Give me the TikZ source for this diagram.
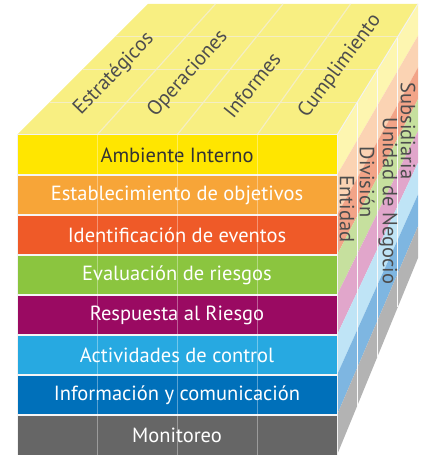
\documentclass[tikz,border=0pt]{standalone}
\usepackage{fontspec}
\setmainfont{PT Sans}
% front colours
\definecolor{ambiente}{HTML}{FFE600}
\definecolor{objetivos}{HTML}{F7A538}
\definecolor{eventos}{HTML}{EF5A28}
\definecolor{evaluacion}{HTML}{8BC53F}
\definecolor{respuesta}{HTML}{9A0A62}
\definecolor{actividades}{HTML}{27A9E1}
\definecolor{informacion}{HTML}{0070BA}
\definecolor{monitoreo}{HTML}{666666}
% side colours
\definecolor{ambienteS}{HTML}{FDF6B0}
\definecolor{objetivosS}{HTML}{FBD3B3}
\definecolor{eventosS}{HTML}{F2A488}
\definecolor{evaluacionS}{HTML}{C6E09E}
\definecolor{respuestaS}{HTML}{E1A6CB}
\definecolor{actividadesS}{HTML}{BFE4F6}
\definecolor{informacionS}{HTML}{7EB6E1}
\definecolor{monitoreoS}{HTML}{B3B3B3}
% top face
\definecolor{topface}{HTML}{F8EF82}
\definecolor{topgrid}{HTML}{F4EEC4}
\definecolor{labelgray}{HTML}{4D4D4D}
\begin{document}
\begin{tikzpicture}[x=1pt, y=-1pt,
    frontlabel/.style={inner sep=0pt, font=\fontsize{20.5}{20.5}\selectfont},
    toplabel/.style={inner sep=0pt, text=labelgray, font=\fontsize{20.5}{20.5}\selectfont},
    sidelabel/.style={inner sep=0pt, text=labelgray, rotate=-90, font=\fontsize{20.5}{20.5}\selectfont}
]
    \useasboundingbox (0,0) rectangle (432,462);

    % Top face
    \fill[topface] (17,135) -- (337,135) -- (418,4) -- (148,4) -- cycle;
    \foreach \i in {1,2,3}
        \draw[topgrid, line width=1.2pt] (17+80*\i,135) -- (148+67.5*\i,4);
    \foreach \t in {0.25,0.5,0.75}
        \draw[topgrid, line width=1.2pt] (17+131*\t,135-131*\t) -- (337+81*\t,135-131*\t);

    % Front face and side face, one band per row
    \foreach \fc/\txt/\tc [count=\k from 0] in {
        ambiente/Ambiente Interno/black!80,
        objetivos/Establecimiento de objetivos/white,
        eventos/Identificación de eventos/white,
        evaluacion/Evaluación de riesgos/white,
        respuesta/Respuesta al Riesgo/white,
        actividades/Actividades de control/white,
        informacion/Información y comunicación/white,
        monitoreo/Monitoreo/white} {
        \fill[\fc] (17,135+40*\k) rectangle (337,175+40*\k);
        \fill[\fc S] (337,135+40*\k) -- (418,4+31.75*\k) -- (418,35.75+31.75*\k) -- (337,175+40*\k) -- cycle;
        \node[frontlabel, text=\tc] (\fc) at (177,155+40*\k) {\txt};
    }

    % Row and column lines
    \foreach \k in {1,...,7}
        \draw[white!92!gray, line width=1.5pt] (17,135+40*\k) -- (337,135+40*\k);
    \foreach \i in {1,2,3}
        \draw[white, opacity=0.35, line width=1pt] (17+80*\i,135) -- (17+80*\i,455);
    \foreach \t in {0.25,0.5,0.75}
        \draw[white!95!gray, line width=1.2pt] (337+81*\t,135-131*\t) -- (337+81*\t,455-197*\t);

    % Cube edges
    \draw[white!90!gray, line width=1pt] (17,455) -- (17,135) -- (337,135) -- (337,455);
    \draw[white!90!gray, line width=1pt] (337,135) -- (418,4);

    % Objectives on top
    \node[toplabel, rotate=46] (estrategicos) at (114,74) {Estratégicos};
    \node[toplabel, rotate=48] (operaciones) at (188,74) {Operaciones};
    \node[toplabel, rotate=51] (informes) at (252,85) {Informes};
    \node[toplabel, rotate=53] (cumplimiento) at (340,66) {Cumplimiento};

    % Units on the side
    \node[sidelabel] (entidad) at (347,209) {Entidad};
    \node[sidelabel] (division) at (367,182) {División};
    \node[sidelabel] (unidad) at (388,201) {Unidad de Negocio};
    \node[sidelabel] (subsidiaria) at (408,131) {Subsidiaria};
\end{tikzpicture}
\end{document}
